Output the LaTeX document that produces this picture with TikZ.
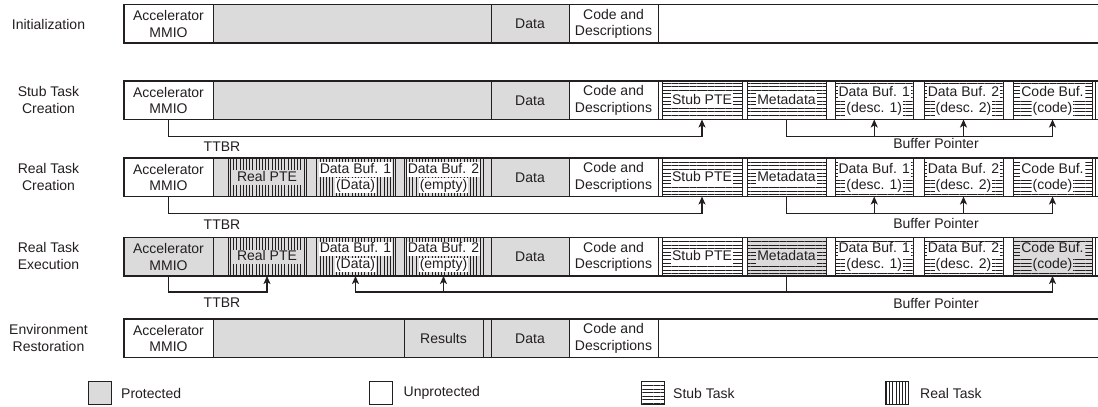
\documentclass[tikz,border=0pt]{standalone}
\usepackage{fontspec}
\setmainfont{Liberation Sans}
\usetikzlibrary{patterns.meta,arrows.meta}
\definecolor{ink}{RGB}{35,31,32}
\definecolor{prot}{RGB}{219,219,219}
\tikzset{
  txt/.style={font=\fontsize{14}{16.5}\selectfont, text=ink},
  cell/.style={anchor=north west, minimum height=38.5pt, inner sep=0pt,
               outer sep=0pt, align=center, txt},
  plain/.style={cell, draw=ink, line width=1pt, fill=#1},
  plain/.default=white,
  hatchH/.style={cell, fill=#1,
    postaction={pattern={Lines[angle=0,distance=3.6pt,line width=0.7pt]}, pattern color=ink},
    postaction={draw=ink, line width=1pt}},
  hatchH/.default=white,
  hatchV/.style={cell, fill=#1,
    postaction={pattern={Lines[angle=90,distance=3.2pt,line width=0.7pt]}, pattern color=ink},
    postaction={draw=ink, line width=1pt}},
  hatchV/.default=prot,
  tag/.style={txt, fill=white, inner xsep=1pt, inner ysep=0.5pt,
              text height=10.5pt, text depth=3pt},
  rowedge/.style={draw=ink, line width=1.2pt},
  ptr/.style={draw=ink, line width=1.1pt, -{Stealth[length=8pt,width=7pt,inset=2pt]}},
  rowlabel/.style={txt, align=center},
  legbox/.style={draw=ink, line width=1pt, anchor=north west,
                 minimum width=23pt, minimum height=23pt, inner sep=0pt},
  legtext/.style={txt, anchor=west, inner sep=0pt},
}
\begin{document}
\begin{tikzpicture}[x=1pt,y=-1pt]
\useasboundingbox (0,0) rectangle (1098,407);

% ---------- row labels ----------
\node[rowlabel] (lab1) at (48.5,24)  {Initialization};
\node[rowlabel] (lab2) at (48.5,100) {Stub Task\\Creation};
\node[rowlabel] (lab3) at (48.5,177) {Real Task\\Creation};
\node[rowlabel] (lab4) at (48.5,256) {Real Task\\Execution};
\node[rowlabel] (lab5) at (48.5,338) {Environment\\Restoration};

% ---------- row 1: initialization ----------
\node[plain, minimum width=89pt]  (mmio1) at (124,4.5) {Accelerator\\MMIO};
\node[plain=prot, minimum width=278pt] (sec1) at (213,4.5) {};
\node[plain=prot, minimum width=78pt]  (data1) at (491,4.5) {Data};
\node[plain, minimum width=89pt]  (code1) at (569,4.5) {Code and\\Descriptions};
\node[plain, minimum width=450pt] (rest1) at (658,4.5) {};
\draw[rowedge] (124,4.5) rectangle (1110,43);

% ---------- row 2: stub task creation ----------
\node[plain, minimum width=89pt]  (mmio2) at (124,81) {Accelerator\\MMIO};
\node[plain=prot, minimum width=278pt] (sec2) at (213,81) {};
\node[plain=prot, minimum width=78pt]  (data2) at (491,81) {Data};
\node[plain, minimum width=89pt]  (code2) at (569,81) {Code and\\Descriptions};
\node[plain, minimum width=450pt] (rest2) at (658,81) {};
\node[hatchH, minimum width=80pt] (spte2) at (662,81) {};
\node[hatchH, minimum width=79pt] (meta2) at (747,81) {};
\node[hatchH, minimum width=78.5pt] (dbA2) at (835,81) {};
\node[hatchH, minimum width=79pt] (dbB2) at (924,81) {};
\node[hatchH, minimum width=79pt] (cbuf2) at (1013,81) {};
\node[plain, minimum width=20pt] (tail2) at (1095,81) {};
\draw[rowedge] (124,81) rectangle (1110,119.5);
\node[tag] (spte2t) at (spte2.center) {Stub PTE};
\node[tag] (meta2t) at (meta2.center) {Metadata};
\node[tag] (dbA2t) at ([yshift=8pt]dbA2.center) {Data Buf. 1};
\node[tag] (dbA2b) at ([yshift=-8pt]dbA2.center) {(desc. 1)};
\node[tag] (dbB2t) at ([yshift=8pt]dbB2.center) {Data Buf. 2};
\node[tag] (dbB2b) at ([yshift=-8pt]dbB2.center) {(desc. 2)};
\node[tag] (cbuf2t) at ([yshift=8pt]cbuf2.center) {Code Buf.};
\node[tag] (cbuf2b) at ([yshift=-8pt]cbuf2.center) {(code)};

\coordinate (bus2) at (0,136.5);
\draw[ptr] (mmio2.south) -- (mmio2.south |- bus2) -| (spte2.south);
\draw[ptr] (meta2.south) -- (meta2.south |- bus2) -| (cbuf2.south);
\draw[ptr] (dbA2.south |- bus2) -- (dbA2.south);
\draw[ptr] (dbB2.south |- bus2) -- (dbB2.south);
\node[txt] (ttbr2) at (222,147) {TTBR};
\node[txt] (bp2) at (936,143) {Buffer Pointer};

% ---------- row 3: real task creation ----------
\node[plain, minimum width=89pt]  (mmio3) at (124,158) {Accelerator\\MMIO};
\node[plain=prot, minimum width=278pt] (sec3) at (213,158) {};
\node[hatchV, minimum width=78pt] (rpte3) at (228,158) {};
\node[hatchV, minimum width=79pt] (rdA3) at (316,158) {};
\node[hatchV, minimum width=79pt] (rdB3) at (404,158) {};
\node[plain=prot, minimum width=78pt]  (data3) at (491,158) {Data};
\node[plain, minimum width=89pt]  (code3) at (569,158) {Code and\\Descriptions};
\node[plain, minimum width=450pt] (rest3) at (658,158) {};
\node[hatchH, minimum width=80pt] (spte3) at (662,158) {};
\node[hatchH, minimum width=79pt] (meta3) at (747,158) {};
\node[hatchH, minimum width=78.5pt] (dbA3) at (835,158) {};
\node[hatchH, minimum width=79pt] (dbB3) at (924,158) {};
\node[hatchH, minimum width=79pt] (cbuf3) at (1013,158) {};
\node[plain, minimum width=20pt] (tail3) at (1095,158) {};
\draw[rowedge] (124,158) rectangle (1110,196.5);
\node[tag, fill=prot, inner xsep=4pt] (rpte3t) at (rpte3.center) {Real PTE};
\node[tag] (rdA3t) at ([yshift=8pt]rdA3.center) {Data Buf. 1};
\node[tag] (rdA3b) at ([yshift=-8pt]rdA3.center) {(Data)};
\node[tag] (rdB3t) at ([yshift=8pt]rdB3.center) {Data Buf. 2};
\node[tag] (rdB3b) at ([yshift=-8pt]rdB3.center) {(empty)};
\node[tag] (spte3t) at (spte3.center) {Stub PTE};
\node[tag] (meta3t) at (meta3.center) {Metadata};
\node[tag] (dbA3t) at ([yshift=8pt]dbA3.center) {Data Buf. 1};
\node[tag] (dbA3b) at ([yshift=-8pt]dbA3.center) {(desc. 1)};
\node[tag] (dbB3t) at ([yshift=8pt]dbB3.center) {Data Buf. 2};
\node[tag] (dbB3b) at ([yshift=-8pt]dbB3.center) {(desc. 2)};
\node[tag] (cbuf3t) at ([yshift=8pt]cbuf3.center) {Code Buf.};
\node[tag] (cbuf3b) at ([yshift=-8pt]cbuf3.center) {(code)};

\coordinate (bus3) at (0,213.5);
\draw[ptr] (mmio3.south) -- (mmio3.south |- bus3) -| (spte3.south);
\draw[ptr] (meta3.south) -- (meta3.south |- bus3) -| (cbuf3.south);
\draw[ptr] (dbA3.south |- bus3) -- (dbA3.south);
\draw[ptr] (dbB3.south |- bus3) -- (dbB3.south);
\node[txt] (ttbr3) at (222,225) {TTBR};
\node[txt] (bp3) at (936,223) {Buffer Pointer};

% ---------- row 4: real task execution ----------
\node[plain=prot, minimum width=89pt]  (mmio4) at (124,237.5) {Accelerator\\MMIO};
\node[plain=prot, minimum width=278pt] (sec4) at (213,237.5) {};
\node[hatchV, minimum width=78pt] (rpte4) at (228,237.5) {};
\node[hatchV, minimum width=79pt] (rdA4) at (316,237.5) {};
\node[hatchV, minimum width=79pt] (rdB4) at (404,237.5) {};
\node[plain=prot, minimum width=78pt]  (data4) at (491,237.5) {Data};
\node[plain, minimum width=89pt]  (code4) at (569,237.5) {Code and\\Descriptions};
\node[plain, minimum width=450pt] (rest4) at (658,237.5) {};
\node[hatchH, minimum width=80pt] (spte4) at (662,237.5) {};
\node[hatchH=prot, minimum width=79pt] (meta4) at (747,237.5) {};
\node[hatchH, minimum width=78.5pt] (dbA4) at (835,237.5) {};
\node[hatchH, minimum width=79pt] (dbB4) at (924,237.5) {};
\node[hatchH=prot, minimum width=79pt] (cbuf4) at (1013,237.5) {};
\node[plain, minimum width=20pt] (tail4) at (1095,237.5) {};
\draw[rowedge] (124,237.5) rectangle (1110,276);
\node[tag, fill=prot, inner xsep=4pt] (rpte4t) at (rpte4.center) {Real PTE};
\node[tag] (rdA4t) at ([yshift=8pt]rdA4.center) {Data Buf. 1};
\node[tag] (rdA4b) at ([yshift=-8pt]rdA4.center) {(Data)};
\node[tag] (rdB4t) at ([yshift=8pt]rdB4.center) {Data Buf. 2};
\node[tag] (rdB4b) at ([yshift=-8pt]rdB4.center) {(empty)};
\node[tag] (spte4t) at (spte4.center) {Stub PTE};
\node[tag, fill=prot] (meta4t) at (meta4.center) {Metadata};
\node[tag] (dbA4t) at ([yshift=8pt]dbA4.center) {Data Buf. 1};
\node[tag] (dbA4b) at ([yshift=-8pt]dbA4.center) {(desc. 1)};
\node[tag] (dbB4t) at ([yshift=8pt]dbB4.center) {Data Buf. 2};
\node[tag] (dbB4b) at ([yshift=-8pt]dbB4.center) {(desc. 2)};
\node[tag, fill=prot] (cbuf4t) at ([yshift=8pt]cbuf4.center) {Code Buf.};
\node[tag, fill=prot] (cbuf4b) at ([yshift=-8pt]cbuf4.center) {(code)};

\coordinate (bus4) at (0,292);
\draw[ptr] (mmio4.south) -- (mmio4.south |- bus4) -| (rpte4.south);
\draw[ptr] (meta4.south) -- (meta4.south |- bus4) -| (rdA4.south);
\draw[ptr] (meta4.south |- bus4) -| (cbuf4.south);
\draw[ptr] (rdB4.south |- bus4) -- (rdB4.south);
\node[txt] (ttbr4) at (222,303) {TTBR};
\node[txt] (bp4) at (936,303) {Buffer Pointer};

% ---------- row 5: environment restoration ----------
\node[plain, minimum width=89pt]  (mmio5) at (124,319) {Accelerator\\MMIO};
\node[plain=prot, minimum width=278pt] (sec5) at (213,319) {};
\node[plain=prot, minimum width=79pt]  (res5) at (404,319) {Results};
\node[plain=prot, minimum width=78pt]  (data5) at (491,319) {Data};
\node[plain, minimum width=89pt]  (code5) at (569,319) {Code and\\Descriptions};
\node[plain, minimum width=450pt] (rest5) at (658,319) {};
\draw[rowedge] (124,319) rectangle (1110,357.5);

% ---------- legend ----------
\node[legbox, fill=prot] (legP) at (88,381) {};
\node[legtext] (legPt) at ([xshift=9pt]legP.east) {Protected};
\node[legbox, fill=white] (legU) at (368.5,381) {};
\node[legtext] (legUt) at ([xshift=11pt]legU.east) {Unprotected};
\node[legbox, fill=white,
      postaction={pattern={Lines[angle=0,distance=3.6pt,line width=0.7pt]}, pattern color=ink},
      postaction={draw=ink, line width=1pt}] (legS) at (641,381) {};
\node[legtext] (legSt) at ([xshift=8pt]legS.east) {Stub Task};
\node[legbox, fill=white,
      postaction={pattern={Lines[angle=90,distance=3.2pt,line width=0.7pt]}, pattern color=ink},
      postaction={draw=ink, line width=1pt}] (legR) at (885,381) {};
\node[legtext] (legRt) at ([xshift=11pt]legR.east) {Real Task};
\end{tikzpicture}
\end{document}
